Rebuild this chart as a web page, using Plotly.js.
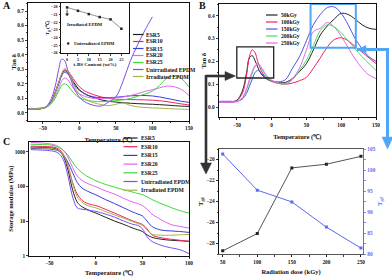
<!DOCTYPE html>
<html><head><meta charset="utf-8">
<script src="https://cdn.plot.ly/plotly-3.0.1.min.js"></script>
<style>html,body{margin:0;padding:0;background:#fff}#chart{width:392px;height:278px}</style>
</head><body><div id="chart"></div>
<script>
// ---------- Panel A : tan delta vs temperature ----------
const aTemp = [-70,-55,-45,-38,-33,-28,-24,-20,-16,-12,-8,-4,0,5,10,20,30,40,50,60,70,80,90,100,110,120,130,140,150];
const aESR5  = [.025,.028,.04,.08,.14,.21,.265,.29,.28,.25,.215,.185,.16,.14,.125,.105,.09,.08,.075,.07,.067,.064,.062,.06,.057,.054,.05,.047,.045];
const aESR10 = [.025,.028,.04,.08,.14,.21,.265,.295,.29,.265,.235,.205,.18,.16,.145,.125,.11,.1,.095,.093,.092,.091,.09,.088,.084,.078,.07,.062,.055];
const aESR15 = [.025,.028,.04,.078,.135,.2,.255,.28,.27,.24,.205,.175,.155,.14,.125,.11,.105,.105,.108,.113,.118,.12,.12,.117,.11,.1,.09,.08,.073];
const aESR20 = [.025,.028,.038,.07,.115,.17,.22,.24,.23,.2,.17,.145,.13,.12,.11,.1,.098,.1,.105,.11,.12,.133,.148,.16,.173,.185,.18,.16,.12];
const aESR25 = [.03,.032,.04,.065,.1,.15,.19,.2,.19,.165,.14,.12,.105,.095,.088,.08,.078,.08,.085,.09,.1,.115,.13,.15,.19,.24,.255,.235,.18];
const aUnirrTemp = [-70,-55,-45,-38,-33,-28,-24,-20,-16,-12,-8,-4,0,5,10,20,30,40,50,60,70,80,90,100];
const aUnirr = [.03,.032,.045,.1,.18,.3,.37,.36,.3,.24,.18,.14,.11,.085,.07,.052,.048,.075,.11,.22,.36,.47,.57,.66];
const aIrr   = [.028,.03,.04,.075,.135,.21,.27,.305,.29,.25,.2,.16,.13,.105,.09,.07,.058,.05,.06,.068,.052,.042,.038,.035,.033,.03,.028,.026,.025];
const aNames = ['ESR5','ESR10','ESR15','ESR20','ESR25','Unirradiated EPDM','Irradiated EPDM'];

// inset: Tg vs t-BS content
const insetContent = [0,5,10,15,20,25];
const insetTg = [-20.08,-20.52,-20.95,-21.34,-21.64,-22.87];
const insetUnirrContent = [0.5];
const insetUnirrTg = [-24.8];

// ---------- Panel B : tan delta vs temperature at doses ----------
const bTemp = [-75,-60,-50,-42,-36,-32,-28,-24,-20,-15,-10,-5,0,10,20,30,40,50,60,70,80,90,100,110,120,130,140,150];
const b50  = [.02,.022,.03,.07,.15,.215,.225,.205,.175,.145,.13,.12,.115,.107,.108,.125,.155,.19,.25,.315,.355,.385,.41,.405,.385,.36,.345,.34];
const b100 = [.02,.022,.028,.06,.14,.22,.25,.24,.2,.16,.135,.12,.112,.103,.1,.105,.115,.13,.17,.215,.262,.295,.303,.29,.265,.24,.215,.19];
const b150 = [.025,.025,.025,.035,.06,.09,.12,.15,.16,.15,.13,.12,.113,.11,.12,.17,.22,.29,.36,.405,.435,.438,.41,.36,.3,.255,.22,.2];
const b200 = [.022,.022,.025,.04,.075,.11,.145,.175,.185,.17,.145,.125,.115,.105,.1,.12,.16,.205,.27,.335,.36,.35,.325,.29,.255,.22,.19,.16];
const b250 = [.02,.02,.023,.04,.08,.12,.155,.18,.19,.175,.15,.13,.118,.105,.102,.125,.17,.25,.33,.345,.37,.35,.31,.26,.21,.17,.14,.125];
const bNames = ['50kGy','100kGy','150kGy','200kGy','250kGy'];

// ---------- Panel C : storage modulus ----------
const cTemp = [-70,-60,-50,-45,-40,-35,-30,-25,-20,-15,-10,-5,0,10,20,30,40,45,50,55,60,70,80,90,100];
const cESR5  = [1350,1330,1300,1250,1100,750,300,80,35,26,22,19,17,13,10,8,6.2,5.6,5,4,3.4,3.0,2.8,2.7,2.6];
const cESR10 = [1450,1430,1400,1350,1200,850,400,130,60,40,33,30,28,22,17,13,10,9,8,6,4,3.3,3,2.8,2.6];
const cESR15 = [1250,1230,1200,1150,1050,800,500,250,130,90,75,65,57,42,32,24,18,16,14,10,7,5.5,5.2,5,4.7];
const cESR20 = [1850,1800,1700,1600,1400,1100,700,350,200,150,125,110,98,75,60,45,35,32,28,22,16,11,8,7,6.3];
const cESR25 = [1650,1620,1580,1500,1350,1100,800,500,330,250,200,170,145,115,95,80,68,62,58,50,42,32,25,20,17];
const cUnirr = [1150,1120,1080,1030,900,600,200,50,24,22,21,20,19,16,13,10,8,7.5,6,3.5,2.6,2,1.7,1.5,1.15];
const cIrr   = [1300,1280,1250,1200,1080,800,400,120,50,35,29,26,24,19,15,12,9.5,8.5,7.5,5.5,4.2,3.9,3.9,4,4.1];

// ---------- Panel D : Tg1 / Tg2 vs dose ----------
const dDose = [50,100,150,200,250];
const dTg1 = [-28.7,-27.05,-20.8,-20.45,-19.7];
const dTg2 = [103.8,95.2,92.4,86.4,81.4];

// ---------- styling ----------
const W = 392, H = 278;
const seriesColors = ['#222222','#f0245a','#3c3cd8','#e064ee','#3cd83c','#7b4ff0','#a3b446'];
const doseColors = ['#222222','#f0245a','#4b55e8','#4cdc66','#dc6ce8'];
const blueD = '#5a68f2';
const arrowBlue = '#4fa6f5';
const fx = x => x / W, fy = y => 1 - y / H;

const traces = [];
const aY = [aESR5,aESR10,aESR15,aESR20,aESR25,aUnirr,aIrr];
aY.forEach((ys,i)=>{
  traces.push({x: i===5 ? aUnirrTemp : aTemp, y: ys, name: aNames[i], type:'scatter', mode:'lines',
    line:{color:seriesColors[i], width:1, shape:'spline', smoothing:1}, xaxis:'x', yaxis:'y', showlegend:false});
});
traces.push({x: insetContent, y: insetTg, type:'scatter', mode:'lines+markers', xaxis:'x2', yaxis:'y2',
  line:{color:'#777', width:0.8}, marker:{symbol:'square', size:2.5, color:'#222'}, showlegend:false});
traces.push({x: insetUnirrContent, y: insetUnirrTg, type:'scatter', mode:'markers', xaxis:'x2', yaxis:'y2',
  marker:{symbol:'circle', size:2.5, color:'#222'}, showlegend:false});
[b50,b100,b150,b200,b250].forEach((ys,i)=>{
  traces.push({x: bTemp, y: ys, name: bNames[i], type:'scatter', mode:'lines',
    line:{color:doseColors[i], width:1, shape:'spline', smoothing:1}, xaxis:'x3', yaxis:'y3', showlegend:false});
});
[cESR5,cESR10,cESR15,cESR20,cESR25,cUnirr,cIrr].forEach((ys,i)=>{
  traces.push({x: cTemp, y: ys, name: aNames[i], type:'scatter', mode:'lines',
    line:{color:seriesColors[i], width:1, shape:'spline', smoothing:1}, xaxis:'x4', yaxis:'y4', showlegend:false});
});
traces.push({x: dDose, y: dTg1, type:'scatter', mode:'lines+markers', xaxis:'x5', yaxis:'y5',
  line:{color:'#555', width:1}, marker:{symbol:'square', size:3, color:'#222'}, showlegend:false});
traces.push({x: dDose, y: dTg2, type:'scatter', mode:'lines+markers', xaxis:'x5', yaxis:'y6',
  line:{color:blueD, width:1}, marker:{symbol:'square', size:3, color:blueD}, showlegend:false});

const tf = {size:5.3};
const ttf = {size:6.5};
function ax(o){
  return Object.assign({showgrid:false, zeroline:false, showline:true, linecolor:'#111', linewidth:1,
    mirror:true, ticks:'outside', ticklen:2, tickwidth:0.8, tickcolor:'#111', tickfont:tf}, o);
}
const shapes = [], annotations = [];
function manualLegend(names, colors, lx0, lx1, tx, y0, dy){
  names.forEach((n,i)=>{
    const y = y0 + i*dy;
    shapes.push({type:'line', xref:'paper', yref:'paper', x0:fx(lx0), x1:fx(lx1), y0:fy(y), y1:fy(y),
      line:{color:colors[i], width:1.2}});
    annotations.push({xref:'paper', yref:'paper', x:fx(tx), y:fy(y), xanchor:'left', yanchor:'middle',
      text:n, showarrow:false, font:{size:5.6}, borderpad:0});
  });
}
manualLegend(aNames, seriesColors, 133, 143.5, 144.5, 34.5, 7);
manualLegend(bNames, doseColors, 266, 277.5, 279.5, 15, 7);
manualLegend(aNames, seriesColors, 123.5, 137.5, 140, 138, 8.7);

// boxes in panel B
shapes.push({type:'rect', xref:'x3', yref:'y3', x0:-50, x1:3, y0:0.127, y1:0.263, line:{color:'#222', width:1.3}});
shapes.push({type:'rect', xref:'x3', yref:'y3', x0:56, x1:121, y0:0.259, y1:0.451, line:{color:arrowBlue, width:2}});
// connector arrows
function pline(x0,y0,x1,y1,color,w,xr,yr){
  shapes.push({type:'line', xref:xr||'paper', yref:yr||'paper',
    x0: xr ? x0 : fx(x0), y0: yr ? y0 : fy(y0), x1: xr ? x1 : fx(x1), y1: yr ? y1 : fy(y1), line:{color:color, width:w}});
}
function tri(pts,color){
  const d = 'M ' + pts.map(p=>fx(p[0])+','+fy(p[1])).join(' L ') + ' Z';
  shapes.push({type:'path', xref:'paper', yref:'paper', path:d, fillcolor:color, line:{color:color, width:0.5}});
}
pline(206,76,226,76,'#333',2.6);
pline(206,75,206,164,'#333',2.6);
tri([[225,71.5],[235.5,76],[225,80.5]],'#333');
tri([[200.5,163],[211.5,163],[206,174]],'#333');
pline(357,49.5,388,49.5,arrowBlue,3);
pline(387.5,48,387.5,138,arrowBlue,3);
tri([[366,45.5],[357,49.5],[366,53.5]],arrowBlue);
tri([[382,137],[393,137],[387.5,149]],arrowBlue);
// small arrow inside the inset (Irradiated EPDM -> first point)
pline(0,-20.35,0,-20.95,'#222',0.8,'x2','y2');
shapes.push({type:'path', xref:'x2', yref:'y2', path:'M -0.7,-20.9 L 0.7,-20.9 L 0,-21.2 Z', fillcolor:'#222', line:{color:'#222', width:0.4}});

// panel letters
[['A',1,6],['B',197,6],['C',1,141]].forEach(l=>{
  annotations.push({xref:'paper', yref:'paper', x:fx(l[1]), y:fy(l[2]), xanchor:'left', yanchor:'middle',
    text:l[0], showarrow:false, font:{size:10}});
});
// inset annotations
annotations.push({xref:'x2', yref:'y2', x:-1, y:-22.25, xanchor:'left', yanchor:'middle', text:'Irradiated EPDM', showarrow:false, font:{size:4.6}});
annotations.push({xref:'x2', yref:'y2', x:2.1, y:-24.8, xanchor:'left', yanchor:'middle', text:'Unirradiated EPDM', showarrow:false, font:{size:4.6}});

const layout = {
  width:W, height:H, margin:{l:0,r:0,t:0,b:0}, paper_bgcolor:'#fff', plot_bgcolor:'rgba(0,0,0,0)',
  font:{family:'Liberation Serif, Times New Roman, serif', size:5, color:'#111', weight:'bold'},
  showlegend:false,
  xaxis: ax({domain:[fx(28),fx(189)], range:[-70,150], anchor:'y', tickvals:[-50,0,50,100,150],
    minor:{ticks:'outside', ticklen:1.2, dtick:25, tickcolor:'#111'},
    title:{text:'Temperature (℃)', font:ttf, standoff:7}}),
  yaxis: ax({domain:[fy(121),fy(3)], range:[-0.055,0.755], anchor:'x', dtick:0.1, tickformat:'.1f',
    minor:{ticks:'outside', ticklen:1.2, dtick:0.05, tickcolor:'#111'},
    title:{text:'Tan δ', font:ttf, standoff:0}}),
  xaxis2: ax({domain:[fx(61),fx(129)], range:[-2.8,28.5], anchor:'y2', tickvals:[0,5,10,15,20,25], tickfont:{size:4.2}, ticklen:1.5,
    title:{text:'t-BS Content (wt%)', font:{size:5}, standoff:1}}),
  yaxis2: ax({domain:[fy(53),fy(3)], range:[-26.04,-19.5], anchor:'x2', dtick:1, tickfont:{size:4.2}, ticklen:1.5,
    title:{text:'T<sub>g</sub> (℃)', font:{size:5}, standoff:1}}),
  xaxis3: ax({domain:[fx(218.7),fx(376)], range:[-76,150], anchor:'y3', tickvals:[-50,0,50,100,150],
    minor:{ticks:'outside', ticklen:1.2, dtick:25, tickcolor:'#111'},
    title:{text:'Temperature (℃)', font:ttf, standoff:7}}),
  yaxis3: ax({domain:[fy(117.3),fy(4)], range:[-0.045,0.451], anchor:'x3', dtick:0.1, tickformat:'.1f',
    minor:{ticks:'outside', ticklen:1.2, dtick:0.05, tickcolor:'#111'},
    title:{text:'Tan δ', font:ttf, standoff:0}}),
  xaxis4: ax({domain:[fx(29.3),fx(189)], range:[-71.5,100], anchor:'y4', tickvals:[-50,0,50,100],
    minor:{ticks:'outside', ticklen:1.2, dtick:25, tickcolor:'#111'},
    title:{text:'Temperature (℃)', font:ttf, standoff:5}}),
  yaxis4: ax({type:'log', domain:[fy(255.7),fy(141.7)], range:[0,3.29], anchor:'x4', tickvals:[1,10,100,1000], ticktext:['1','10','100','1000'],
    title:{text:'Storage modulus (MPa)', font:ttf, standoff:0}}),
  xaxis5: ax({domain:[fx(218.7),fx(363.3)], range:[44.2,253.4], anchor:'y5', tickvals:[50,100,150,200,250], linecolor:'#555', linewidth:1.3,
    minor:{ticks:'outside', ticklen:1.2, dtick:25, tickcolor:'#111'},
    title:{text:'Radiation dose (kGy)', font:ttf, standoff:5}}),
  yaxis5: ax({domain:[fy(254),fy(149)], range:[-29,-19], anchor:'x5', tickvals:[-28,-26,-24,-22,-20], mirror:false,
    minor:{ticks:'outside', ticklen:1.2, dtick:1, tickcolor:'#111'},
    title:{text:'T<sub>g1</sub>', font:ttf, standoff:2}}),
  yaxis6: ax({overlaying:'y5', side:'right', anchor:'x5', range:[80,105], dtick:5, mirror:false,
    linecolor:blueD, tickcolor:blueD, tickfont:{size:5.3, color:blueD},
    minor:{ticks:'outside', ticklen:1.2, dtick:2.5, tickcolor:blueD},
    title:{text:'T<sub>g2</sub>', font:{size:6.5, color:blueD}, standoff:2}}),
  shapes: shapes, annotations: annotations
};
Plotly.newPlot('chart', traces, layout, {staticPlot:true, displayModeBar:false});
</script></body></html>
